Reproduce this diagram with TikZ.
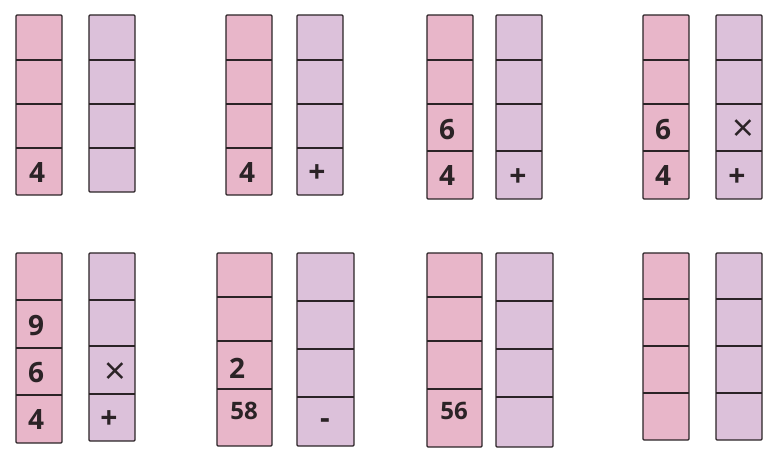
\documentclass[tikz,border=0pt]{standalone}
\usepackage{fontspec}
\setmainfont{Open Sans}
\definecolor{pinkc}{HTML}{E8B6C9}
\definecolor{lavc}{HTML}{DCC1DA}
\definecolor{edgec}{HTML}{2B2326}
\newcommand\colstack[8]{%
  \fill[#1] (#2,#4) rectangle (#3,#8);
  \draw[edgec,line width=1.3pt] (#2,#5) -- (#3,#5) (#2,#6) -- (#3,#6) (#2,#7) -- (#3,#7);
  \draw[edgec,line width=1.4pt,rounded corners=1pt] (#2,#4) rectangle (#3,#8);}
\tikzset{
  dig/.style={text=edgec,font=\fontsize{28}{28}\selectfont\bfseries,inner sep=0pt},
  num/.style={text=edgec,font=\fontsize{24}{24}\selectfont\bfseries,inner sep=0pt},
  op/.style={text=edgec,font=\fontsize{30}{30}\selectfont\bfseries,inner sep=0pt},
  times/.style={text=edgec,font=\fontsize{38}{38}\selectfont,inner sep=0pt}
}
\begin{document}
\begin{tikzpicture}[x=1pt,y=-1pt]
\useasboundingbox (0,0) rectangle (780,455);
\fill[white] (0,0) rectangle (780,455);
% pair 1
\colstack{pinkc}{16}{62}{15}{60}{104}{148}{195}
\colstack{lavc}{89}{135}{15}{60}{104}{148}{192}
\node[dig] (p1a) at (37,173) {4};
% pair 2
\colstack{pinkc}{226}{272}{15}{60}{104}{148}{195}
\colstack{lavc}{297}{343}{15}{60}{104}{148}{195}
\node[dig] (p2a) at (247,173) {4};
\node[op] (p2b) at (317,174) {+};
% pair 3
\colstack{pinkc}{427}{473}{15}{60}{104}{151}{199}
\colstack{lavc}{496}{542}{15}{60}{104}{151}{199}
\node[dig] (p3a) at (447,130) {6};
\node[dig] (p3b) at (447,176) {4};
\node[op] (p3c) at (518,178) {+};
% pair 4
\colstack{pinkc}{643}{689}{15}{60}{104}{151}{199}
\colstack{lavc}{716}{762}{15}{60}{104}{151}{199}
\node[dig] (p4a) at (663,130) {6};
\node[dig] (p4b) at (663,176) {4};
\node[times] (p4c) at (743,131) {×};
\node[op] (p4d) at (737,178) {+};
% pair 5
\colstack{pinkc}{16}{62}{253}{300}{348}{395}{443}
\colstack{lavc}{89}{135}{253}{300}{346}{394}{441}
\node[dig] (p5a) at (36,326) {9};
\node[dig] (p5b) at (36,373) {6};
\node[dig] (p5c) at (36,420) {4};
\node[times] (p5d) at (115,374) {×};
\node[op] (p5e) at (109,420) {+};
% pair 6
\colstack{pinkc}{217}{272}{253}{297}{341}{389}{446}
\colstack{lavc}{297}{354}{253}{301}{349}{397}{446}
\node[dig] (p6a) at (237,368) {2};
\node[num] (p6b) at (244,411) {58};
\node[op] (p6c) at (325,424) {-};
% pair 7
\colstack{pinkc}{427}{482}{253}{297}{341}{389}{447}
\colstack{lavc}{496}{553}{253}{301}{349}{397}{447}
\node[num] (p7a) at (454,411) {56};
% pair 8
\colstack{pinkc}{643}{689}{253}{299}{346}{393}{440}
\colstack{lavc}{716}{762}{253}{299}{346}{393}{440}
\end{tikzpicture}
\end{document}
